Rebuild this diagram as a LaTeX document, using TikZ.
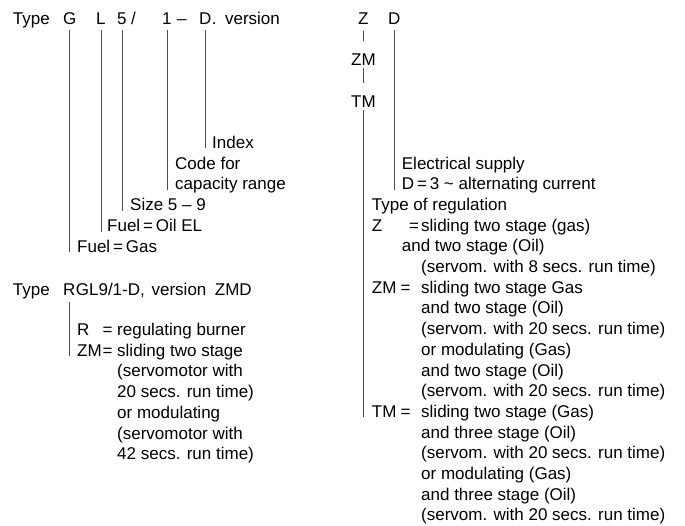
\documentclass[tikz,border=0pt]{standalone}
\usepackage{fontspec}
\setmainfont{Liberation Sans}
\newcommand{\txtfont}{\fontsize{17}{20.7}\selectfont}
\newcommand{\lsk}{20.7pt}
\tikzset{
  lbl/.style={anchor=base west, inner sep=0pt, font=\txtfont},
  lead/.style={line width=0.8pt, draw=black!70},
}
\begin{document}
\begin{tikzpicture}[x=1pt, y=-1pt]
\useasboundingbox (0,0) rectangle (685,525);
% 1. type code GL5/1-D
\node[lbl] (typeA) at (12.7,24) {Type};
\node[lbl] (cG) at (63,24) {G};
\node[lbl] (cL) at (96,24) {L};
\node[lbl] (c5) at (117,24) {5};
\node[lbl] (slash) at (131,24) {/};
\node[lbl] (c1) at (162,24) {1};
\node[lbl] (dash) at (177,24) {--};
\node[lbl] (cD) at (199,24) {D};
\node[lbl] (ver) at (cD.base east) {.\hspace{0.5em}version};

% 2. meaning of each letter
\node[lbl] (idx) at (212,148.3) {Index};
\node[lbl] (code) at (175,169) {Code for};
\node[lbl] (capr) at ([yshift=-\lsk]code.base west) {capacity range};
\node[lbl] (size) at (130,210.7) {Size 5 -- 9};
\node[lbl] (foil) at (107,231.5) {Fuel\,=\,Oil EL};
\node[lbl] (fgas) at (77,252.3) {Fuel\,=\,Gas};

\draw[lead] ([yshift=-6pt]cG.base) -- (cG.base |- fgas.base);
\draw[lead] ([yshift=-6pt]cL.base) -- (cL.base |- foil.base);
\draw[lead] ([yshift=-6pt]c5.base) -- (c5.base |- size.base);
\draw[lead] ([yshift=-6pt]c1.base) -- (c1.base |- capr.base);
\draw[lead] ([yshift=-6pt]cD.base) -- (cD.base |- idx.base);

% 3. example RGL9/1-D
\node[lbl] (typeB) at (12.7,295) {Type};
\node[lbl] (rR) at (63,295) {R};
\node[lbl] (rgl) at (rR.base east) {GL9/1-D,\hspace{0.4em}version\hspace{0.5em}ZMD};
\node[lbl] (kR) at (77,335.5) {R};
\node[lbl] (eqR) at (102.5,335.5) {=};
\node[lbl] (dR) at (117,335.5) {regulating burner};
\node[lbl] (kZM) at (77,356.2) {ZM};
\node[lbl] (eqZM) at (102.5,356.2) {=};
\node[lbl] (dZMa) at (117,356.2) {sliding two stage};
\node[lbl] (dZMb) at ([yshift=-\lsk]dZMa.base west) {(servomotor with};
\node[lbl] (dZMc) at ([yshift=-\lsk]dZMb.base west) {20 secs. run time)};
\node[lbl] (dZMd) at ([yshift=-\lsk]dZMc.base west) {or modulating};
\node[lbl] (dZMe) at ([yshift=-\lsk]dZMd.base west) {(servomotor with};
\node[lbl] (dZMf) at ([yshift=-\lsk]dZMe.base west) {42 secs. run time)};
\draw[lead] ([yshift=-7pt]rR.base) -- (rR.base |- kZM.base);

% 4. version ZD
\node[lbl] (vZ) at (358,24) {Z};
\node[lbl] (vD) at (388,24) {D};
\node[font=\txtfont, inner sep=0pt, anchor=base] (vZM) at (363.5,65) {ZM};
\node[font=\txtfont, inner sep=0pt, anchor=base] (vTM) at (363.5,107) {TM};
\draw[lead] ([yshift=-7pt]vZ.base) -- ([yshift=12pt]vZM.north);
\draw[lead] ([yshift=-3pt]vZM.base) -- ([yshift=12pt]vTM.north);

\node[lbl] (elec) at (401.7,169) {Electrical supply};
\node[lbl] (dsup) at ([yshift=-\lsk]elec.base west) {D\,=\,3 \textasciitilde\ alternating current};
\node[lbl] (treg) at (371.7,210.4) {Type of regulation};

\node[lbl] (kZ) at (371.7,231.1) {Z};
\node[lbl] (eqZ) at (409,231.1) {=};
\node[lbl] (dZa) at (421,231.1) {sliding two stage (gas)};
\node[lbl] (dZb) at (401.7,251.8) {and two stage (Oil)};
\node[lbl] (dZc) at (421,272.5) {(servom. with 8 secs. run time)};

\node[lbl] (kZM2) at (371.7,293.2) {ZM};
\node[lbl] (eqZM2) at (400.5,293.2) {=};
\node[lbl] (rZMa) at (421,293.2) {sliding two stage Gas};
\node[lbl] (rZMb) at ([yshift=-\lsk]rZMa.base west) {and two stage (Oil)};
\node[lbl] (rZMc) at ([yshift=-\lsk]rZMb.base west) {(servom. with 20 secs. run time)};
\node[lbl] (rZMd) at ([yshift=-\lsk]rZMc.base west) {or modulating (Gas)};
\node[lbl] (rZMe) at ([yshift=-\lsk]rZMd.base west) {and two stage (Oil)};
\node[lbl] (rZMf) at ([yshift=-\lsk]rZMe.base west) {(servom. with 20 secs. run time)};

\node[lbl] (kTM) at (371.7,417.4) {TM};
\node[lbl] (eqTM) at (400.5,417.4) {=};
\node[lbl] (rTMa) at (421,417.4) {sliding two stage (Gas)};
\node[lbl] (rTMb) at ([yshift=-\lsk]rTMa.base west) {and three stage (Oil)};
\node[lbl] (rTMc) at ([yshift=-\lsk]rTMb.base west) {(servom. with 20 secs. run time)};
\node[lbl] (rTMd) at ([yshift=-\lsk]rTMc.base west) {or modulating (Gas)};
\node[lbl] (rTMe) at ([yshift=-\lsk]rTMd.base west) {and three stage (Oil)};
\node[lbl] (rTMf) at ([yshift=-\lsk]rTMe.base west) {(servom. with 20 secs. run time)};

\draw[lead] ([yshift=-6pt]vD.base) -- (vD.base |- dsup.base);
\draw[lead] ([yshift=-3pt]vTM.base) -- (vTM.base |- kTM.base);
\end{tikzpicture}
\end{document}
